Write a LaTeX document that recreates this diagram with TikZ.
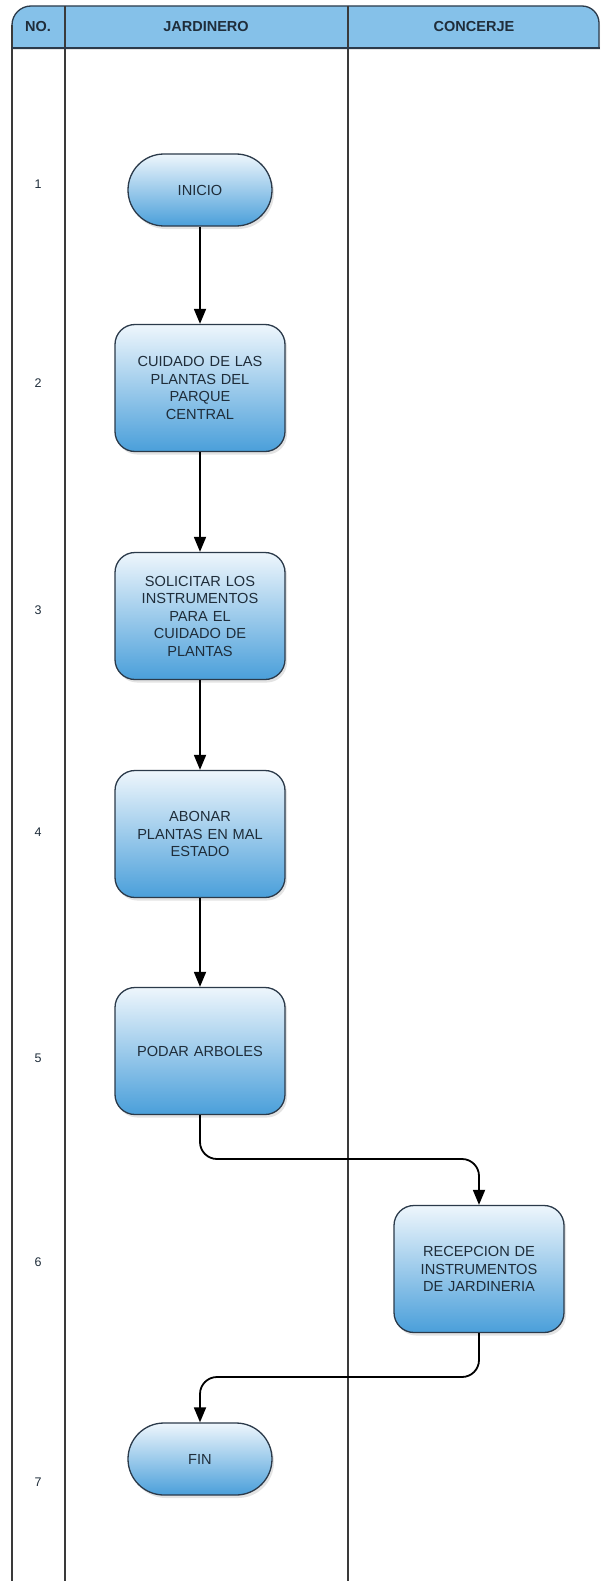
\documentclass[tikz,border=0pt]{standalone}
\usepackage{fontspec}
\setmainfont{Liberation Sans}
\usetikzlibrary{arrows.meta,shadows}
\definecolor{hdr}{HTML}{85C1E9}
\definecolor{bord}{HTML}{2B3A4A}
\definecolor{topc}{HTML}{EEF6FC}
\definecolor{botc}{HTML}{4A9FDA}
\definecolor{lane}{HTML}{3A3A3A}
\definecolor{txt}{HTML}{1F2D3A}
\begin{document}
\begin{tikzpicture}[x=1pt,y=-1pt,
  boxbase/.style={draw=bord, line width=1.3pt, top color=topc, bottom color=botc,
    align=center, text=txt, font=\fontsize{14.6}{17.5}\selectfont, inner sep=0pt,
    drop shadow={opacity=0.22, shadow xshift=2pt, shadow yshift=-3pt}},
  proc/.style={boxbase, rounded corners=20pt, minimum width=170pt, minimum height=127pt, text width=164pt},
  term/.style={boxbase, rounded corners=36pt, minimum width=144pt, minimum height=72pt},
  conn/.style={draw=black, line width=1.8pt, rounded corners=17pt, -{Triangle[length=15pt,width=12pt]}},
  lanel/.style={draw=lane, line width=1.8pt},
  hdrtxt/.style={font=\fontsize{14.5}{17}\selectfont\bfseries, text=txt},
  num/.style={font=\fontsize{12.5}{15}\selectfont, text=txt}]
\useasboundingbox (0,0) rectangle (600,1581);
% header
\path[fill=hdr, draw=bord, line width=1.3pt, drop shadow={opacity=0.2, shadow xshift=1pt, shadow yshift=-2pt}]
  (12,48) -- (12,25) arc(180:270:19) -- (582,6) arc(270:360:17) -- (599,48) -- cycle;
\draw[lanel] (12,25) -- (12,1581);
\draw[lanel] (65,6) -- (65,1581);
\draw[lanel] (348,6) -- (348,1581);
\draw[draw=bord, line width=1.6pt] (12,48) -- (600,48);
\node[hdrtxt] (hno) at (38,27) {NO.};
\node[hdrtxt] (hjar) at (206,27) {JARDINERO};
\node[hdrtxt] (hcon) at (474,27) {CONCERJE};
% numbers
\node[num] (n1) at (38,184) {1};
\node[num] (n2) at (38,383) {2};
\node[num] (n3) at (38,610) {3};
\node[num] (n4) at (38,832) {4};
\node[num] (n5) at (38,1058) {5};
\node[num] (n6) at (38,1262) {6};
\node[num] (n7) at (38,1482) {7};
% nodes
\node[term] (s0) at (200,190) {INICIO};
\node[proc] (s1) at (200,388) {CUIDADO DE LAS\\PLANTAS DEL\\PARQUE\\CENTRAL};
\node[proc] (s2) at (200,616) {SOLICITAR LOS\\INSTRUMENTOS\\PARA EL\\CUIDADO DE\\PLANTAS};
\node[proc] (s3) at (200,834) {ABONAR\\PLANTAS EN MAL\\ESTADO};
\node[proc] (s4) at (200,1051) {PODAR ARBOLES};
\node[proc] (s5) at (479,1269) {RECEPCION DE\\INSTRUMENTOS\\DE JARDINERIA};
\node[term] (s6) at (200,1459) {FIN};
% connectors
\coordinate (m1) at (0,1159);
\coordinate (m2) at (0,1377);
\draw[conn] (s0) -- (s1);
\draw[conn] (s1) -- (s2);
\draw[conn] (s2) -- (s3);
\draw[conn] (s3) -- (s4);
\draw[conn] (s4.south) -- (s4.south |- m1) -| (s5.north);
\draw[conn] (s5.south) -- (s5.south |- m2) -| (s6.north);
\end{tikzpicture}
\end{document}
